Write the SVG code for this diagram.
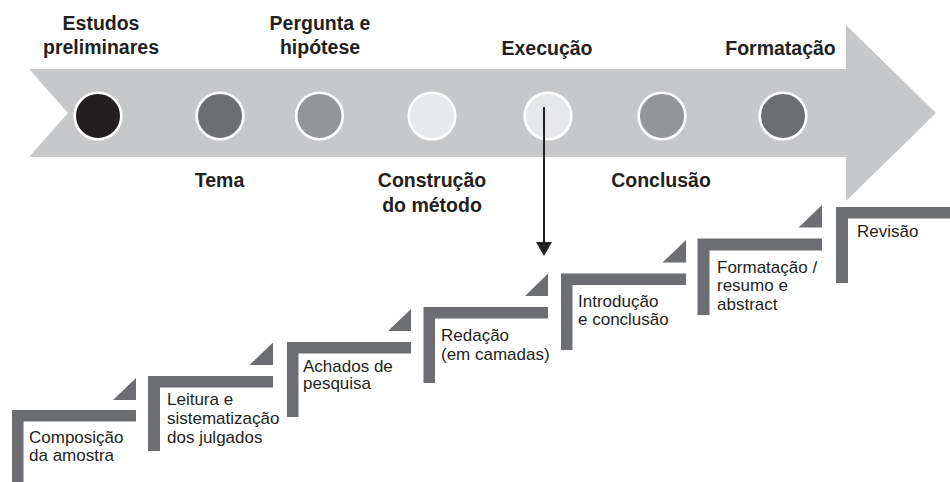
<svg xmlns="http://www.w3.org/2000/svg" width="950" height="482" viewBox="0 0 950 482">
<defs>
<style>
.band{fill:#c7c8ca}
.dot{stroke:#ffffff;stroke-width:2.6}
.c1{fill:#231f20}.c2{fill:#6d6e71}.c3{fill:#939598}.c4{fill:#e6e7e8}
.lb{font-family:"Liberation Sans",Arial,sans-serif;font-weight:bold;font-size:19.5px;fill:#231f20;text-anchor:middle}
.st{fill:#6d6e71}
.tx{font-family:"Liberation Sans",Arial,sans-serif;font-size:17px;fill:#231f20}
.conn{stroke:#231f20;stroke-width:2;fill:none}
</style>
<marker id="ah" viewBox="0 0 14 16" refX="8" refY="8" markerWidth="14" markerHeight="16" markerUnits="userSpaceOnUse" orient="auto">
<path d="M0,0 L14,8 L0,16 Z" fill="#231f20"/>
</marker>
</defs>
<polygon class="band" points="29,69 846,69 846,25 936,113 846,201 846,157 29,157 68,113"/>

<g id="estudos-preliminares">
<circle class="dot c1" cx="98" cy="116" r="23.3"/>
<text class="lb" x="101" y="29.5">Estudos</text>
<text class="lb" x="101" y="54">preliminares</text>
</g>
<g id="tema">
<circle class="dot c2" cx="220" cy="116" r="23.3"/>
<text class="lb" x="219.5" y="187">Tema</text>
</g>
<g id="pergunta-hipotese">
<circle class="dot c3" cx="319.5" cy="116" r="23.3"/>
<text class="lb" x="320" y="29.5">Pergunta e</text>
<text class="lb" x="320" y="54">hipótese</text>
</g>
<g id="construcao-metodo">
<circle class="dot c4" cx="432" cy="116" r="23.3"/>
<text class="lb" x="432" y="187">Construção</text>
<text class="lb" x="432" y="212">do método</text>
</g>
<g id="execucao">
<circle class="dot c4" cx="548" cy="116" r="23.3"/>
<text class="lb" x="547" y="54.5">Execução</text>
</g>
<g id="conclusao">
<circle class="dot c3" cx="662" cy="116" r="23.3"/>
<text class="lb" x="661" y="187">Conclusão</text>
</g>
<g id="formatacao">
<circle class="dot c2" cx="783" cy="116" r="23.3"/>
<text class="lb" x="780.5" y="54.5">Formatação</text>
</g>

<g id="step-composicao">
<path class="st" d="M12,410 H136 V421.5 H23.5 V482 H12 Z"/>
<polygon class="st" points="113,400 136,400 136,378"/>
<text class="tx" x="29" y="443">Composição</text>
<text class="tx" x="29" y="461">da amostra</text>
</g>
<g id="step-leitura">
<path class="st" d="M148,376 H273 V387.5 H160 V451 H148 Z"/>
<polygon class="st" points="249.5,365 273,365 273,342.5"/>
<text class="tx" x="167" y="405">Leitura e</text>
<text class="tx" x="167" y="424">sistematização</text>
<text class="tx" x="167" y="443">dos julgados</text>
</g>
<g id="step-achados">
<path class="st" d="M287,342 H411 V353.5 H298.5 V417 H287 Z"/>
<polygon class="st" points="388,331 411,331 411,309"/>
<text class="tx" x="303" y="371.5">Achados de</text>
<text class="tx" x="303" y="389">pesquisa</text>
</g>
<g id="step-redacao">
<path class="st" d="M423.5,307 H548 V318.5 H435 V383 H423.5 Z"/>
<polygon class="st" points="525,296 548,296 548,273.5"/>
<text class="tx" x="441" y="341">Redação</text>
<text class="tx" x="441" y="360">(em camadas)</text>
</g>
<g id="step-introducao">
<path class="st" d="M561,273.5 H686 V285 H572.5 V350 H561 Z"/>
<polygon class="st" points="662.5,262.5 686,262.5 686,240"/>
<text class="tx" x="578" y="306.5">Introdução</text>
<text class="tx" x="578" y="324.5">e conclusão</text>
</g>
<g id="step-formatacao">
<path class="st" d="M697.5,238.5 H822 V250.5 H709.5 V315 H697.5 Z"/>
<polygon class="st" points="798.5,227.5 822,227.5 822,205"/>
<text class="tx" x="717" y="272.5">Formatação /</text>
<text class="tx" x="717" y="291">resumo e</text>
<text class="tx" x="717" y="309.5">abstract</text>
</g>
<g id="step-revisao">
<path class="st" d="M836,207 H950 V218.5 H848 V283 H836 Z"/>
<text class="tx" x="857" y="236.5">Revisão</text>
</g>

<g id="connectors">
<line class="conn" x1="544" y1="107" x2="544" y2="250" marker-end="url(#ah)"/>
</g>
</svg>
